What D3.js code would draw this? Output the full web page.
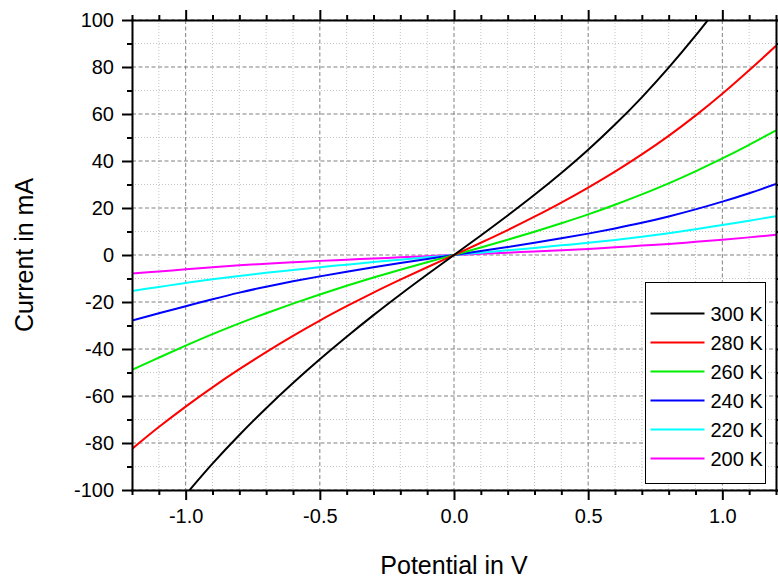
<!DOCTYPE html>
<html>
<head>
<meta charset="utf-8">
<script src="https://cdn.jsdelivr.net/npm/d3@7"></script>
<style>
  body { margin: 0; background: #fff; }
  svg { display: block; font-family: "Liberation Sans", Arial, sans-serif; }
</style>
</head>
<body>
<svg id="chart" width="778" height="578"></svg>
<script>
"use strict"

// potential (V) shared by the 280..200 K curves
const voltage = [-1.2, -1.1, -1.0, -0.9, -0.8, -0.7, -0.6, -0.5, -0.4, -0.3, -0.2, -0.1, 0,
                 0.1, 0.2, 0.3, 0.4, 0.5, 0.6, 0.7, 0.8, 0.9, 1.0, 1.1, 1.2];
// the 300 K curve leaves the frame, so it has its own shorter range
const voltage300 = [-1.0, -0.9, -0.8, -0.7, -0.6, -0.5, -0.4, -0.3, -0.2, -0.1, 0,
                    0.1, 0.2, 0.3, 0.4, 0.5, 0.6, 0.7, 0.8, 0.9, 1.0];

const current300 = [-102.0, -88.8, -76.6, -65.2, -54.5, -44.4, -34.8, -25.6, -16.8, -8.3, 0,
                    8.3, 16.8, 25.6, 34.9, 44.8, 55.5, 67.1, 79.7, 93.3, 107.9];
const current280 = [-82.5, -73.2, -64.5, -56.3, -48.6, -41.3, -34.4, -27.9, -21.8, -16.0, -10.5, -5.2, 0,
                    5.2, 10.6, 16.3, 22.3, 28.7, 35.5, 42.8, 50.7, 59.3, 68.6, 78.6, 89.0];
const current260 = [-48.9, -43.7, -38.6, -33.7, -29.1, -24.8, -20.7, -16.8, -13.1, -9.6, -6.3, -3.1, 0,
                    3.2, 6.5, 9.9, 13.5, 17.3, 21.4, 25.8, 30.5, 35.6, 41.1, 46.9, 53.0];
const current240 = [-27.9, -24.8, -21.8, -18.8, -16.0, -13.5, -11.2, -9.1, -7.1, -5.2, -3.4, -1.7, 0,
                    1.7, 3.4, 5.2, 7.1, 9.1, 11.3, 13.7, 16.4, 19.4, 22.7, 26.3, 30.2];
const current220 = [-15.3, -13.6, -11.9, -10.3, -8.9, -7.6, -6.4, -5.2, -4.1, -3.0, -2.0, -1.0, 0,
                    1.0, 2.0, 3.0, 4.1, 5.2, 6.4, 7.8, 9.3, 11.0, 12.8, 14.6, 16.5];
const current200 = [-7.9, -7.0, -6.1, -5.2, -4.4, -3.7, -3.1, -2.5, -2.0, -1.5, -1.0, -0.5, 0,
                    0.5, 1.0, 1.5, 2.0, 2.6, 3.3, 4.0, 4.7, 5.6, 6.5, 7.5, 8.6];

const seriesLabels = ["300 K", "280 K", "260 K", "240 K", "220 K", "200 K"];
const seriesColors = ["#000000", "#ff0000", "#00ee00", "#0000ff", "#00ffff", "#ff00ff"];

const xMajorTicks = [-1.0, -0.5, 0, 0.5, 1.0];
const xMinorTicks = [-1.2, -1.1, -0.9, -0.8, -0.7, -0.6, -0.4, -0.3, -0.2, -0.1,
                     0.1, 0.2, 0.3, 0.4, 0.6, 0.7, 0.8, 0.9, 1.1, 1.2];
const yMajorTicks = [-100, -80, -60, -40, -20, 0, 20, 40, 60, 80, 100];
const yMinorTicks = [-90, -70, -50, -30, -10, 10, 30, 50, 70, 90];

const xTitle = "Potential in V";
const yTitle = "Current in mA";

const series = [
  { x: voltage300, y: current300 },
  { x: voltage, y: current280 },
  { x: voltage, y: current260 },
  { x: voltage, y: current240 },
  { x: voltage, y: current220 },
  { x: voltage, y: current200 }
].map((s, i) => ({
  label: seriesLabels[i],
  color: seriesColors[i],
  points: s.x.map((v, j) => ({ v: v, c: s.y[j] }))
}));

const svg = d3.select("#chart");
const plotLeft = 132, plotRight = 776, plotTop = 20, plotBottom = 490;

const x = d3.scaleLinear().domain([-1.2, 1.2]).range([plotLeft, plotRight]);
const y = d3.scaleLinear().domain([-100, 100]).range([plotBottom, plotTop]);

// grid: dotted for minor, dashed for major
const grid = svg.append("g");
grid.selectAll(".vminor").data(xMinorTicks).enter().append("line")
  .attr("x1", d => x(d)).attr("x2", d => x(d)).attr("y1", plotTop).attr("y2", plotBottom)
  .attr("stroke", "#c4c4c4").attr("stroke-width", 1).attr("stroke-dasharray", "1,2");
grid.selectAll(".hminor").data(yMinorTicks).enter().append("line")
  .attr("x1", plotLeft).attr("x2", plotRight).attr("y1", d => y(d)).attr("y2", d => y(d))
  .attr("stroke", "#c4c4c4").attr("stroke-width", 1).attr("stroke-dasharray", "1,2");
grid.selectAll(".vmajor").data(xMajorTicks).enter().append("line")
  .attr("x1", d => x(d)).attr("x2", d => x(d)).attr("y1", plotTop).attr("y2", plotBottom)
  .attr("stroke", "#808080").attr("stroke-width", 1).attr("stroke-dasharray", "4,2.5");
grid.selectAll(".hmajor").data(yMajorTicks).enter().append("line")
  .attr("x1", plotLeft).attr("x2", plotRight).attr("y1", d => y(d)).attr("y2", d => y(d))
  .attr("stroke", "#808080").attr("stroke-width", 1).attr("stroke-dasharray", "4,2.5");

// curves, clipped to the frame
svg.append("clipPath").attr("id", "plotClip")
  .append("rect").attr("x", plotLeft).attr("y", plotTop)
  .attr("width", plotRight - plotLeft).attr("height", plotBottom - plotTop);

const line = d3.line()
  .x(d => x(d.v))
  .y(d => y(d.c))
  .curve(d3.curveCatmullRom.alpha(0.5));

svg.append("g").attr("clip-path", "url(#plotClip)")
  .selectAll("path").data(series.slice().reverse()).enter().append("path")
  .attr("d", d => line(d.points))
  .attr("fill", "none")
  .attr("stroke", d => d.color)
  .attr("stroke-width", 2);

// axes on all four sides, major ticks 10px and minor 5px
function drawAxis(axisFn, scale, transform, majors, minors, withLabels, fmt) {
  const minor = svg.append("g").attr("transform", transform)
    .call(axisFn(scale).tickValues(minors).tickSize(5).tickSizeOuter(0).tickFormat(""));
  minor.select(".domain").remove();
  minor.selectAll(".tick line").attr("stroke", "#000").attr("stroke-width", 2);

  const major = svg.append("g").attr("transform", transform)
    .call(axisFn(scale).tickValues(majors).tickSize(10).tickSizeOuter(0)
      .tickPadding(6).tickFormat(withLabels ? fmt : ""));
  major.select(".domain").attr("stroke", "#000").attr("stroke-width", 2)
    .attr("stroke-linecap", "square");
  major.selectAll(".tick line").attr("stroke", "#000").attr("stroke-width", 2);
  major.selectAll(".tick text")
    .attr("fill", "#000")
    .style("font-family", "'Liberation Sans', Arial, sans-serif")
    .style("font-size", "20px");
  return major;
}

const xFmt = d => d.toFixed(1);
const yFmt = d => String(d);

const bottomAxis = drawAxis(d3.axisBottom, x, `translate(0,${plotBottom})`, xMajorTicks, xMinorTicks, true, xFmt);
bottomAxis.selectAll(".tick text").attr("dy", "0.95em").attr("y", 14);
const leftAxis = drawAxis(d3.axisLeft, y, `translate(${plotLeft},0)`, yMajorTicks, yMinorTicks, true, yFmt);
leftAxis.selectAll(".tick text").attr("x", -18);
drawAxis(d3.axisTop, x, `translate(0,${plotTop})`, xMajorTicks, xMinorTicks, false, xFmt);
drawAxis(d3.axisRight, y, `translate(${plotRight},0)`, yMajorTicks, yMinorTicks, false, yFmt);

// axis titles
svg.append("text")
  .attr("x", (plotLeft + plotRight) / 2)
  .attr("y", 574)
  .attr("text-anchor", "middle")
  .style("font-size", "25px")
  .text(xTitle);

svg.append("text")
  .attr("transform", `translate(33,${(plotTop + plotBottom) / 2}) rotate(-90)`)
  .attr("text-anchor", "middle")
  .style("font-size", "25px")
  .text(yTitle);

// legend
const legend = svg.append("g").attr("transform", "translate(645.5,282.5)");
legend.append("rect")
  .attr("width", 120).attr("height", 201)
  .attr("fill", "#fff").attr("stroke", "#000").attr("stroke-width", 1);

const rows = legend.selectAll(".row").data(series).enter().append("g")
  .attr("transform", (d, i) => `translate(0,${31 + i * 29})`);
rows.append("line")
  .attr("x1", 5).attr("x2", 59)
  .attr("stroke", d => d.color).attr("stroke-width", 2);
rows.append("text")
  .attr("x", 65).attr("dy", "0.35em")
  .style("font-size", "20px")
  .text(d => d.label);
</script>
</body>
</html>
